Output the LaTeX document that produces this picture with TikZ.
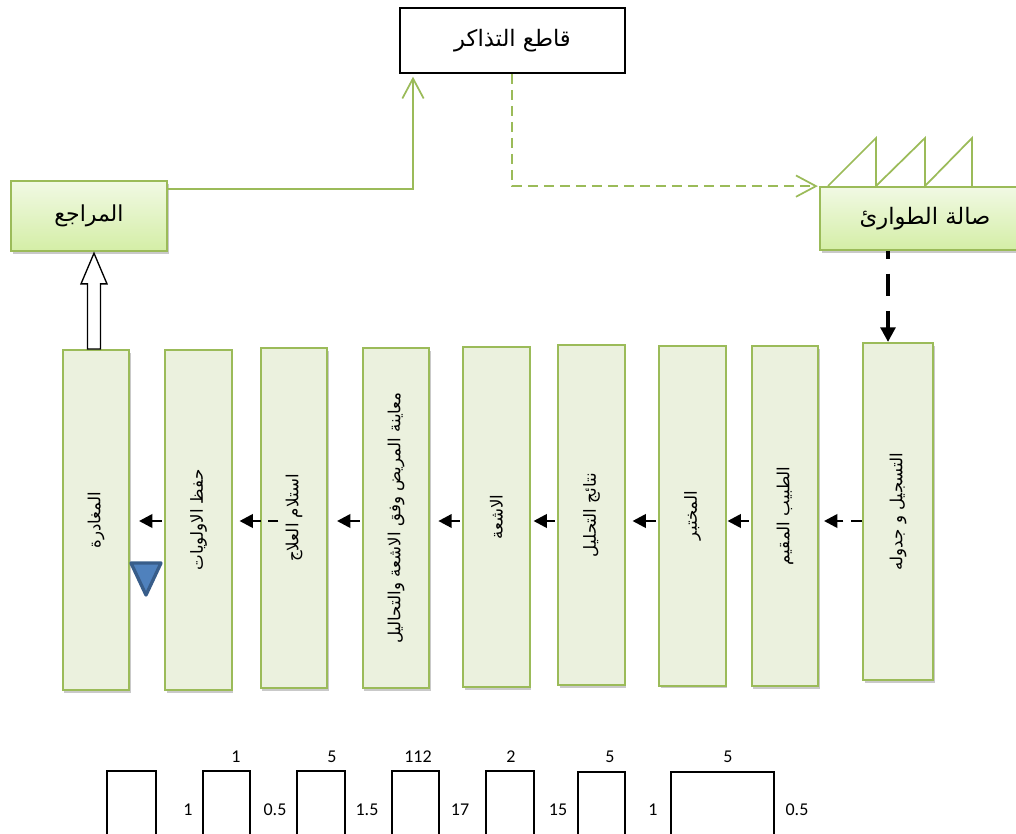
\documentclass[tikz,border=0pt]{standalone}
\usepackage{fontspec}
\setmainfont{Carlito}
\newfontfamily\arabicfont[Script=Arabic]{DejaVu Sans}
\TeXXeTstate=1
\usetikzlibrary{arrows.meta,shadows,calc}
\definecolor{gborder}{HTML}{9BBB59}
\definecolor{gtop}{HTML}{F1F9E4}
\definecolor{gbot}{HTML}{D4EEA6}
\definecolor{vfill}{HTML}{EBF1DE}
\definecolor{invfill}{HTML}{4F81BD}
\definecolor{invdraw}{HTML}{385D8A}
\newcommand{\artext}[1]{\arabicfont\beginR #1\endR}
\tikzset{
 softshadow/.style={drop shadow={shadow xshift=1.2pt, shadow yshift=-2.2pt, opacity=0.3, fill=black!70}},
 gbox/.style={draw=gborder, line width=1.3pt, top color=gtop, bottom color=gbot, softshadow, inner sep=0pt, font=\fontsize{16.5}{18}\selectfont},
 vbox/.style={draw=gborder, line width=1.5pt, fill=vfill, softshadow, inner sep=0pt, minimum width=50pt, minimum height=255pt},
 vlabel/.style={rotate=90, font=\fontsize{12.5}{14}\selectfont, inner sep=0pt},
 tbox/.style={draw=black, line width=1.5pt, fill=white, inner sep=0pt, minimum width=168.75pt, minimum height=48.75pt, font=\fontsize{17}{19}\selectfont},
 gline/.style={draw=gborder, line width=1.3pt},
 barb/.style={-{Straight Barb[length=15pt,width=16pt]}},
 harrow/.style={line width=2pt, -{Triangle[length=10pt,width=10pt]}},
 hdash/.style={harrow, dash pattern=on 8pt off 6pt},
 tl/.style={line width=1.1pt},
 num/.style={font=\fontsize{13.5}{15}\selectfont, inner sep=0pt},
}
\begin{document}
\begin{tikzpicture}[x=0.75pt,y=-0.75pt]
\useasboundingbox (0,0) rectangle (1016,834);
% top nodes
\node[tbox] (tick) at (512.5,40.5) {\artext{قاطع التذاكر}};
\node[gbox, minimum width=117pt, minimum height=52.5pt] (ref) at (89,216) {\artext{المراجع}};
\node[gbox, minimum width=157.5pt, minimum height=47.25pt, font=\fontsize{17}{19}\selectfont] (er) at (925,218.5) {\artext{صالة الطوارئ}};
% sawtooth
\draw[gline] (828,186) -- (876,138) -- (876,186) -- (925,138) -- (925,186) -- (972,138) -- (972,186);
% green connectors
\coordinate (k1) at (413,189);
\draw[gline, barb] (ref.east |- k1) -- (k1) -- ([yshift=-2pt]k1 |- tick.south);
\coordinate (k2) at (512,0);
\draw[gline, barb, dash pattern=on 7.5pt off 4.5pt] (tick.south -| k2) -- (k2 |- er.north west) -- ([xshift=-1pt]er.north west);
% vertical boxes
\node[vbox] (b1) at (96,520) {};
\node[vbox] (b2) at (198.5,520) {};
\node[vbox] (b3) at (294,518) {};
\node[vbox] (b4) at (396,518) {};
\node[vbox] (b5) at (496.5,517) {};
\node[vbox] (b6) at (591.5,515) {};
\node[vbox] (b7) at (692.5,515.5) {};
\node[vbox] (b8) at (785,516) {};
\node[vbox, minimum width=52.5pt, minimum height=252.75pt] (b9) at (898,511.5) {};
\node[vlabel] (t1) at (b1) {\artext{المغادرة}};
\node[vlabel] (t2) at (b2) {\artext{حفظ الاولويات}};
\node[vlabel] (t3) at (b3) {\artext{استلام العلاج}};
\node[vlabel] (t4) at (b4) {\artext{معاينة المريض وفق الاشعة والتحاليل}};
\node[vlabel] (t5) at (b5) {\artext{الاشعة}};
\node[vlabel] (t6) at (b6) {\artext{نتائج التحليل}};
\node[vlabel] (t7) at (b7) {\artext{المختبر}};
\node[vlabel] (t8) at (b8) {\artext{الطبيب المقيم}};
\node[vlabel] (t9) at (b9) {\artext{التسجيل و جدوله}};
% black dashed arrow
\coordinate (k3) at (888,0);
\draw[line width=3pt, dash pattern=on 17pt off 11pt, dash phase=11pt, -{Triangle[length=11pt,width=11pt]}] (er.south -| k3) -- (b9.north -| k3);
% horizontal arrows
\coordinate (ya) at (0,521);
\draw[hdash, shorten >=3.5pt] (b9.west |- ya) -- (b8.east |- ya);
\draw[harrow, shorten <=1.5pt, shorten >=0.5pt] (b8.west |- ya) -- (b7.east |- ya);
\draw[harrow, shorten <=1.5pt, shorten >=5pt] (b7.west |- ya) -- (b6.east |- ya);
\draw[harrow, shorten <=2pt, shorten >=2pt] (b6.west |- ya) -- (b5.east |- ya);
\draw[harrow, shorten <=2pt, shorten >=6pt] (b5.west |- ya) -- (b4.east |- ya);
\draw[harrow, shorten <=1.5pt, shorten >=6.5pt] (b4.west |- ya) -- (b3.east |- ya);
\draw[hdash, dash pattern=on 7.5pt off 5.5pt, shorten <=-14pt, shorten >=5pt] (b3.west |- ya) -- (b2.east |- ya);
\draw[harrow, shorten <=2pt, shorten >=6.5pt] (b2.west |- ya) -- (b1.east |- ya);
% block arrow b1 -> ref
\coordinate (ba) at (94,0);
\coordinate (p1) at (b1.north -| ba);
\coordinate (p2) at (ref.south -| ba);
\draw[line width=1pt, fill=white, line join=miter] ($(p1)+(-6.5,0)$) -- ($(p2)+(-6.5,32)$) -- ($(p2)+(-13,32)$) -- ([yshift=-1pt]p2) -- ($(p2)+(13,32)$) -- ($(p2)+(6.5,32)$) -- ($(p1)+(6.5,0)$) -- cycle;
% inventory triangle
\draw[fill=invfill, draw=invdraw, line width=2.5pt, line join=round] (131,563) -- (161,563) -- (146,595) -- cycle;
% timeline
\foreach \a/\b/\t in {107/156/771, 203/250/771, 297/345/771, 392/439/771, 486/534/771, 578/625/772, 671/774/772}
  \draw[tl] (\a,834) -- (\a,\t) -- (\b,\t) -- (\b,834);
\node[num] (n1) at (236,757) {1};
\node[num] (n2) at (332,757) {5};
\node[num] (n3) at (418,757) {112};
\node[num] (n4) at (511,757) {2};
\node[num] (n5) at (610,757) {5};
\node[num] (n6) at (728,757) {5};
\node[num] (m1) at (188,810) {1};
\node[num] (m2) at (275,810) {0.5};
\node[num] (m3) at (367,810) {1.5};
\node[num] (m4) at (460,810) {17};
\node[num] (m5) at (558,810) {15};
\node[num] (m6) at (653,810) {1};
\node[num] (m7) at (797,810) {0.5};
\end{tikzpicture}
\end{document}
